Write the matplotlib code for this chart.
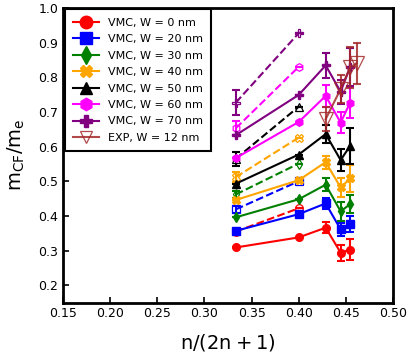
import numpy as np
import matplotlib
matplotlib.use("Agg")
import matplotlib.pyplot as plt

# filling fractions n/(2n+1)
x_vmc = [1/3, 2/5, 3/7, 4/9, 5/11]
x_dash = [1/3, 2/5]
x_exp = [3/7, 4/9, 5/11, 6/13]

widths = [0, 20, 30, 40, 50, 60, 70]
colors = ['red', 'blue', 'green', 'orange', 'black', 'magenta', 'purple']
markers = ['o', 's', 'd', 'X', '^', 'h', 'P']

# VMC effective mass (solid, filled markers)
vmc = [
    [0.309, 0.338, 0.366, 0.294, 0.303],
    [0.357, 0.405, 0.436, 0.361, 0.376],
    [0.396, 0.448, 0.490, 0.413, 0.434],
    [0.446, 0.503, 0.555, 0.482, 0.508],
    [0.493, 0.577, 0.636, 0.561, 0.602],
    [0.567, 0.671, 0.746, 0.669, 0.727],
    [0.633, 0.749, 0.834, 0.758, 0.830],
]
vmc_err = [
    [0, 0, 0.016, 0.023, 0.029],
    [0, 0, 0.015, 0.018, 0.023],
    [0, 0, 0.019, 0.027, 0.025],
    [0, 0, 0.019, 0.027, 0.040],
    [0, 0, 0.025, 0.031, 0.052],
    [0, 0, 0.031, 0.031, 0.045],
    [0, 0, 0.036, 0.034, 0.055],
]

# second estimate (dashed, hollow markers)
dash = [
    [0.355, 0.422],
    [0.419, 0.500],
    [0.462, 0.551],
    [0.512, 0.626],
    [0.565, 0.715],
    [0.653, 0.830],
    [0.727, 0.927],
]
dash_err = [
    [0, 0],
    [0.010, 0],
    [0.010, 0],
    [0.015, 0],
    [0.020, 0],
    [0.020, 0],
    [0.037, 0],
]

# experiment, W = 12 nm
exp_y = [0.679, 0.766, 0.828, 0.840]
exp_err = [0.035, 0.040, 0.058, 0.060]

fig = plt.figure(figsize=(4.15, 3.56), dpi=100)
ax = fig.add_axes([0.152, 0.150, 0.795, 0.828])

ms = 5.5
for i in range(len(widths)):
    c = colors[i]
    m = markers[i]
    ax.errorbar(x_dash, dash[i], yerr=dash_err[i], fmt='none', ecolor=c,
                elinewidth=1.5, capsize=3, capthick=1.5)
    ax.plot(x_dash, dash[i], '--', color=c, marker=m, ms=ms, lw=1.5,
            mfc='none', mec=c, mew=0.9)
    ax.errorbar(x_vmc, vmc[i], yerr=vmc_err[i], fmt='none', ecolor=c,
                elinewidth=1.5, capsize=3, capthick=1.5)
    ax.plot(x_vmc, vmc[i], '-', color=c, marker=m, ms=ms, lw=1.5,
            label='VMC, W = %d nm' % widths[i])

ax.errorbar(x_exp, exp_y, yerr=exp_err, fmt='none', ecolor='brown',
            elinewidth=1.5, capsize=3, capthick=1.5, alpha=0.85)
ax.plot(x_exp, exp_y, '-', color='brown', marker='v', ms=9.5, lw=1.5,
        mfc='none', mec='brown', mew=0.9, alpha=0.85, label='EXP, W = 12 nm')

ax.set_xlim(0.15, 0.50)
ax.set_ylim(0.15, 1.0)
ax.set_xticks(np.arange(0.15, 0.501, 0.05))
ax.set_yticks(np.arange(0.2, 1.001, 0.1))
ax.xaxis.set_major_formatter(matplotlib.ticker.FormatStrFormatter('%.2f'))
ax.yaxis.set_major_formatter(matplotlib.ticker.FormatStrFormatter('%.1f'))
ax.tick_params(direction='in', length=4, width=1.2, labelsize=9)
for s in ax.spines.values():
    s.set_linewidth(2)

ax.set_xlabel(r'$\mathrm{n/(2n+1)}$', fontsize=14, labelpad=8)
ax.set_ylabel(r'$\mathrm{m_{CF}/m_{e}}$', fontsize=14, labelpad=8)

leg = ax.legend(loc='upper left', fontsize=8,
                fancybox=False, framealpha=1, edgecolor='black',
                borderaxespad=0.15, labelspacing=0.58, handlelength=2.3,
                handletextpad=0.85, borderpad=0.75)
leg.get_frame().set_linewidth(1.5)
for h in leg.legend_handles:
    h.set_markersize(9)

fig.savefig('out.png', dpi=100)
